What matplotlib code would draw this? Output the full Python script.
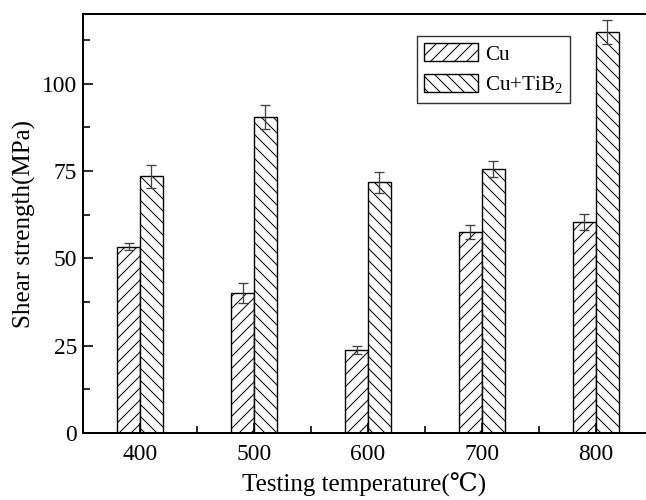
import numpy as np
import matplotlib
matplotlib.use('Agg')
import matplotlib.pyplot as plt
from matplotlib.ticker import MultipleLocator

# drawn at 72 dpi so that one hatch unit is 72 px (matches reference hatch spacing);
# all sizes below are therefore in pixels
plt.rcParams['font.family'] = ['Liberation Serif', 'DejaVu Serif', 'Noto Sans CJK SC']
plt.rcParams['mathtext.fontset'] = 'custom'
plt.rcParams['mathtext.rm'] = 'Liberation Serif'
plt.rcParams['hatch.linewidth'] = 1.0

# shear strength vs testing temperature
temperatures = [400, 500, 600, 700, 800]
cu_strength = [53.3, 40.1, 23.7, 57.5, 60.5]
cu_err = [1.0, 3.0, 1.2, 2.0, 2.3]
tib2_strength = [73.5, 90.5, 71.8, 75.6, 114.9]
tib2_err = [3.3, 3.5, 3.0, 2.4, 3.5]

fig = plt.figure(figsize=(646 / 72, 500 / 72), dpi=72)
ax = fig.add_axes([0.1285, 0.134, 0.8715, 0.838])

x = np.array(temperatures)
w = 20
err_style = dict(ecolor='#404040', elinewidth=1.3, capsize=5, capthick=1.3)
ax.bar(x - w / 2, cu_strength, w, yerr=cu_err, color='white', edgecolor='black',
       linewidth=1.4, hatch='//', label='Cu', error_kw=err_style)
ax.bar(x + w / 2, tib2_strength, w, yerr=tib2_err, color='white', edgecolor='black',
       linewidth=1.4, hatch='\\\\', label=r'Cu+TiB$_\mathregular{2}$', error_kw=err_style)

ax.set_xlim(350, 844)
ax.set_ylim(0, 120)
ax.set_xticks(temperatures)
ax.xaxis.set_minor_locator(MultipleLocator(50))
ax.yaxis.set_major_locator(MultipleLocator(25))
ax.yaxis.set_minor_locator(MultipleLocator(12.5))
ax.tick_params(which='both', direction='in', labelsize=23.5, width=1.6)
ax.tick_params(which='major', length=10)
ax.tick_params(which='minor', length=7)
ax.tick_params(axis='x', pad=11)
ax.tick_params(axis='y', pad=6)

ax.spines['right'].set_visible(False)
for s in ['left', 'bottom', 'top']:
    ax.spines[s].set_linewidth(2.0)

ax.set_xlabel('Testing temperature(℃)', fontsize=25, labelpad=8)
ax.set_ylabel('Shear strength(MPa)', fontsize=25, labelpad=6)

leg = ax.legend(loc='upper left', bbox_to_anchor=(417 / 646, 1 - 36 / 500),
                bbox_transform=fig.transFigure, fontsize=21, frameon=True,
                fancybox=False, edgecolor='black', handlelength=2.55,
                handleheight=0.95, handletextpad=0.33, borderpad=0.35,
                labelspacing=0.45, borderaxespad=0)
leg.get_frame().set_linewidth(1.4)

fig.savefig('out.png', dpi=72)
